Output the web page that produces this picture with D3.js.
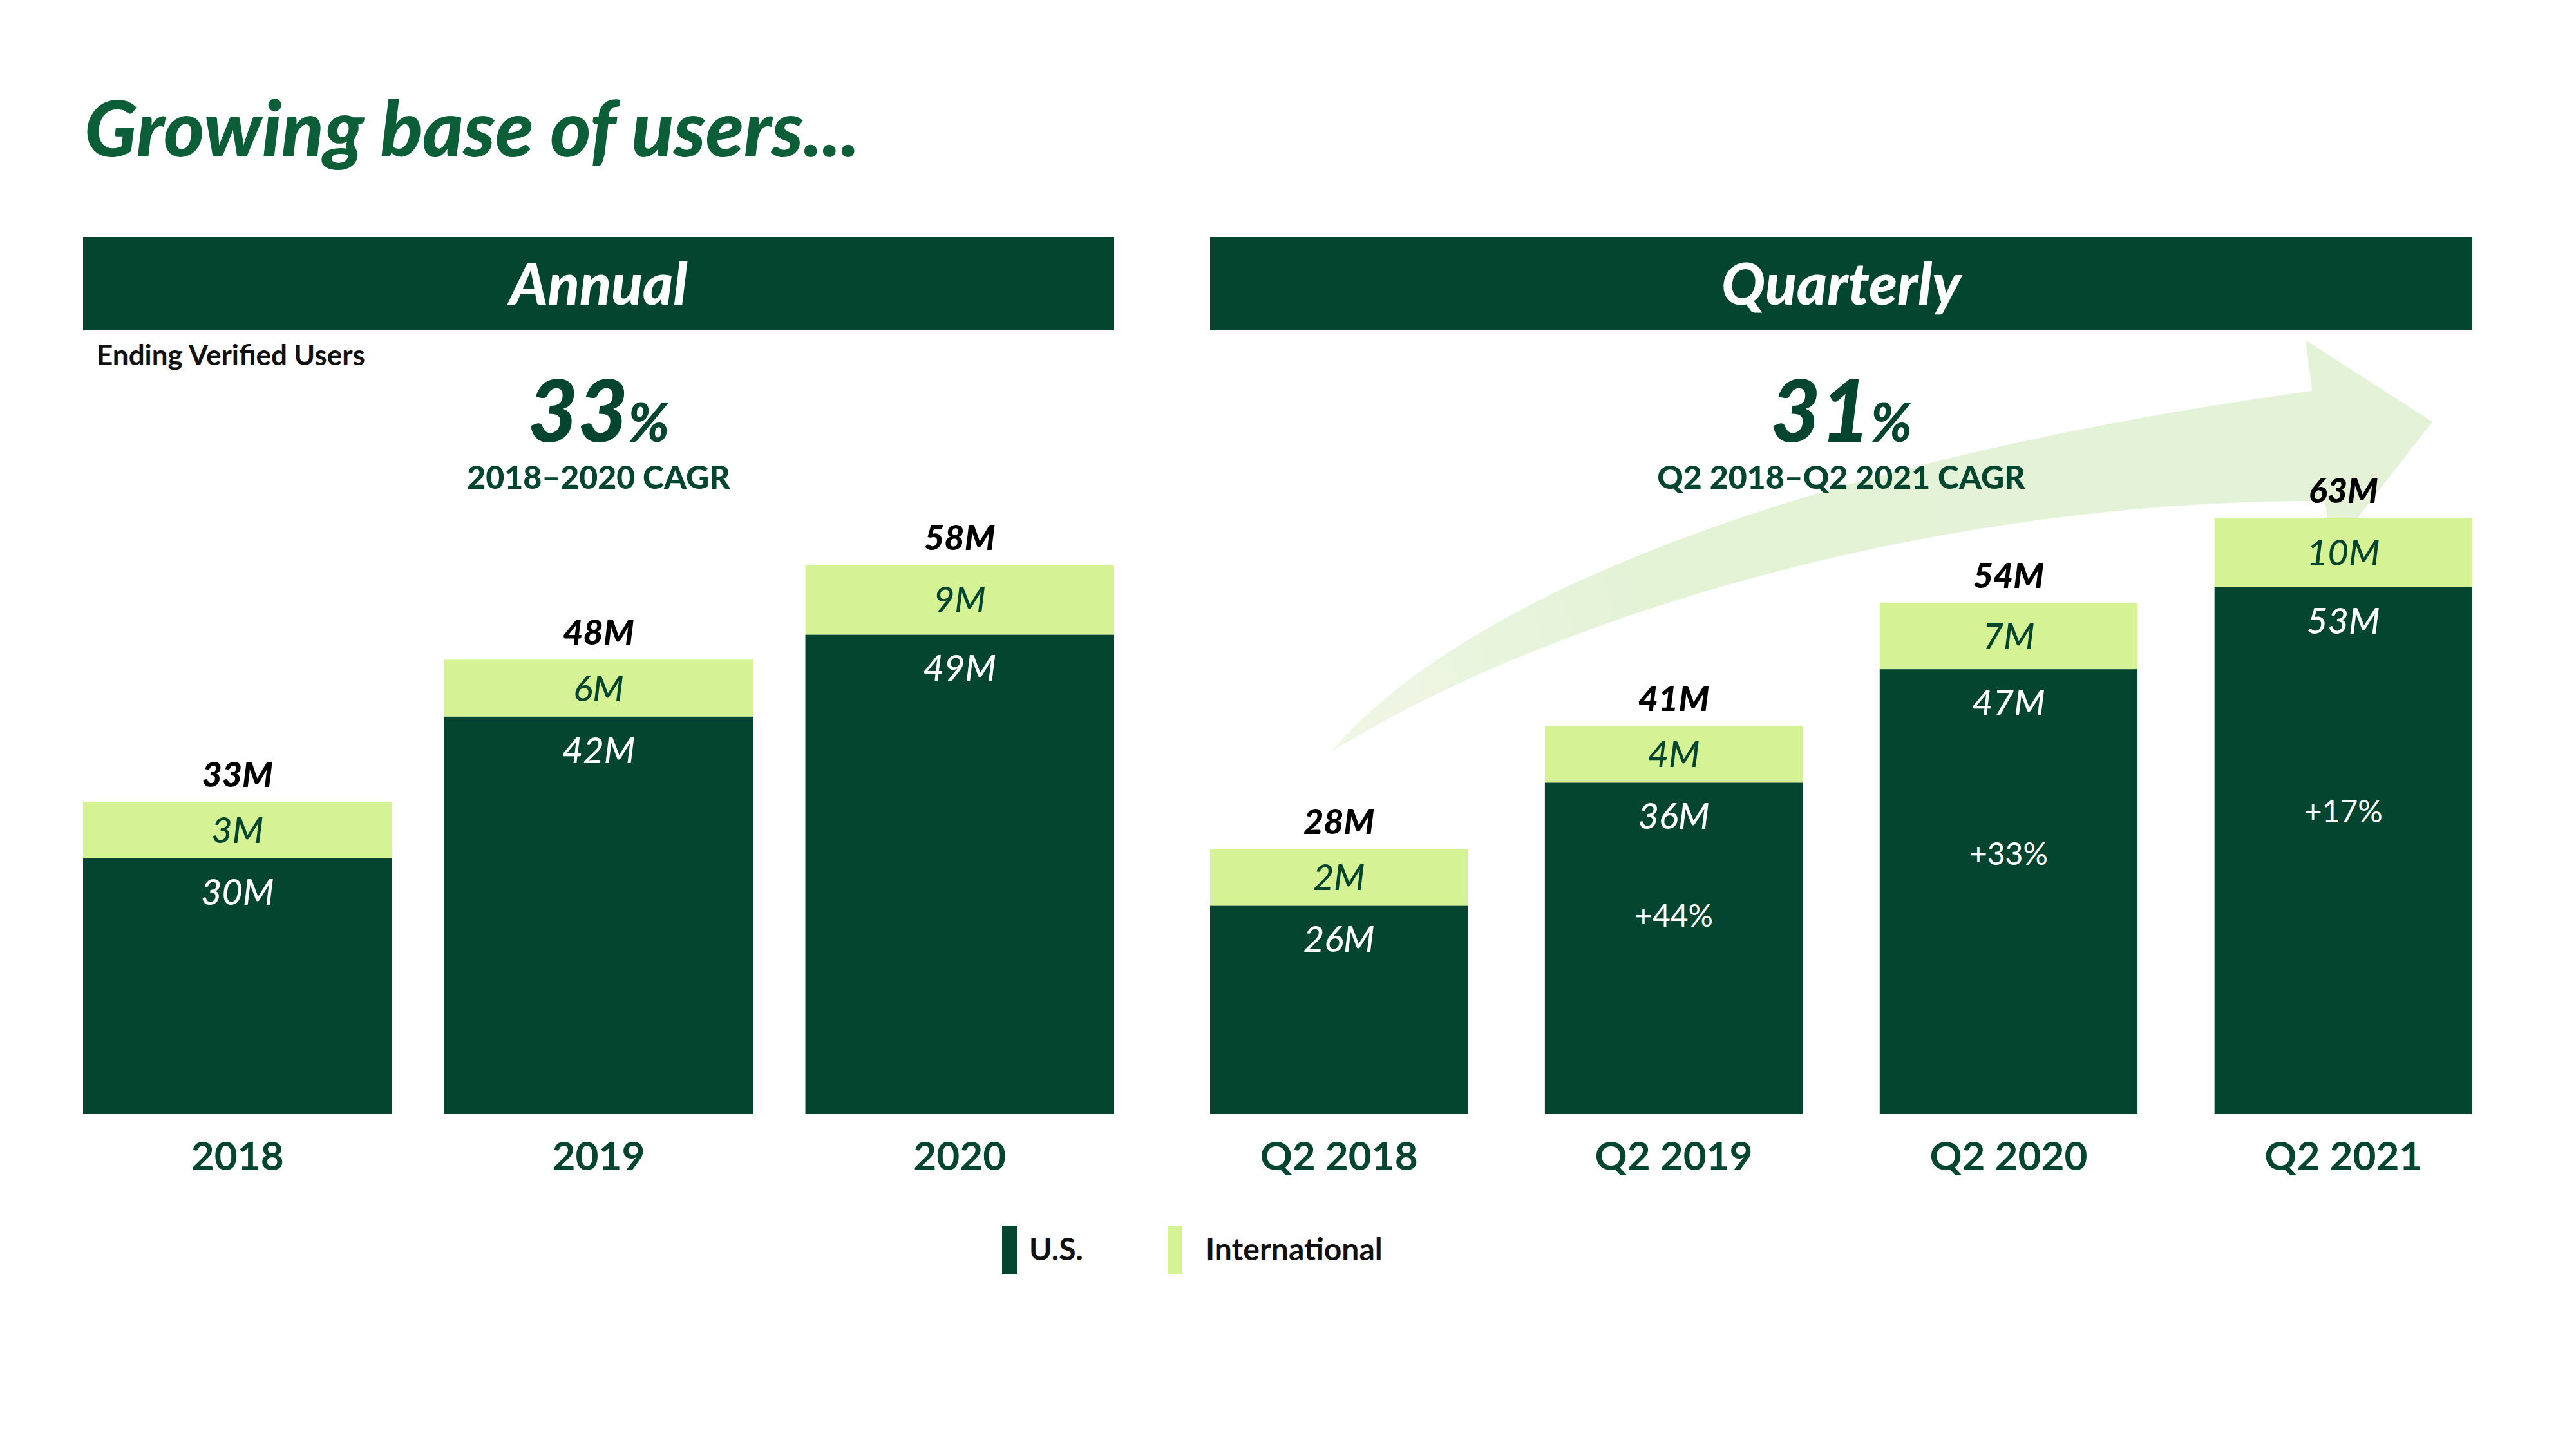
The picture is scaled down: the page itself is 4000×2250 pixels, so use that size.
<!DOCTYPE html>
<html>
<head>
<meta charset="utf-8">
<script src="https://cdn.jsdelivr.net/npm/d3@7"></script>
<style>
    body { margin: 0; background: #ffffff; }
    svg { display: block; font-family: Lato, "Open Sans", sans-serif; }
</style>
</head>
<body>
<svg id="chart"></svg>
<script>
// annual data (millions of ending verified users)
const annualCats = ['2018', '2019', '2020'];
const annualUS = [30, 42, 49];
const annualIntl = [3, 6, 9];
const annualTotal = [33, 48, 58];

// quarterly data
const quarterCats = ['Q2 2018', 'Q2 2019', 'Q2 2020', 'Q2 2021'];
const quarterUS = [26, 36, 47, 53];
const quarterIntl = [2, 4, 7, 10];
const quarterTotal = [28, 41, 54, 63];
const quarterGrowth = ['', '+44%', '+33%', '+17%'];

const legendKeys = ['U.S.', 'International'];

const DARK = '#03452f';
const LIGHT = '#d5f394';
const TITLE_GREEN = '#0b5e38';

const svg = d3.select('#chart')
    .attr('width', 4000)
    .attr('height', 2250);

// shared value scale, baseline of bars at 1730
const y = d3.scaleLinear().domain([0, 100]).range([1730, 260]);
// the intl band is kept inside these limits so its label always fits (as in the slide)
const minBand = 88, maxBand = 108;

// title
svg.append('text')
    .attr('x', 131)
    .attr('y', 243)
    .attr('font-size', 121)
    .attr('font-weight', 900)
    .attr('font-style', 'italic')
    .attr('fill', TITLE_GREEN)
    .text('Growing base of users...');

// sub label
svg.append('text')
    .attr('x', 150)
    .attr('y', 567)
    .attr('font-size', 44)
    .attr('font-weight', 700)
    .attr('fill', '#111')
    .text('Ending Verified Users');

// growth arrow behind the quarterly bars
const defs = svg.append('defs');
const grad = defs.append('linearGradient')
    .attr('id', 'arrowGrad')
    .attr('gradientUnits', 'userSpaceOnUse')
    .attr('x1', 2066).attr('y1', 1168)
    .attr('x2', 3777).attr('y2', 655);
grad.append('stop').attr('offset', 0).attr('stop-color', '#eff7e6');
grad.append('stop').attr('offset', 0.3).attr('stop-color', '#e4f2d6');
grad.append('stop').attr('offset', 1).attr('stop-color', '#e4f3d8');

const arrow = d3.path();
arrow.moveTo(2066, 1168);
arrow.bezierCurveTo(2340, 850, 3050, 680, 3590, 607);
arrow.lineTo(3580, 528);
arrow.lineTo(3777, 655);
arrow.lineTo(3621, 855);
arrow.lineTo(3610, 778);
arrow.bezierCurveTo(3000, 775, 2400, 960, 2066, 1168);
arrow.closePath();
svg.append('path')
    .attr('d', arrow.toString())
    .attr('fill', 'url(#arrowGrad)');

function drawPanel(opts) {
    const x = d3.scaleBand()
        .domain(opts.cats)
        .range(opts.range)
        .paddingInner(opts.pad)
        .paddingOuter(0);
    const cx = (opts.range[0] + opts.range[1]) / 2;
    const g = svg.append('g');

    // header box
    g.append('rect')
        .attr('x', opts.range[0])
        .attr('y', 368)
        .attr('width', opts.range[1] - opts.range[0])
        .attr('height', 145)
        .attr('fill', DARK);
    g.append('text')
        .attr('x', cx)
        .attr('y', 473)
        .attr('text-anchor', 'middle')
        .attr('font-size', 90)
        .attr('font-weight', 900)
        .attr('font-style', 'italic')
        .attr('fill', '#ffffff')
        .text(opts.header);

    // CAGR callout
    const big = g.append('text')
        .attr('x', cx)
        .attr('y', 686)
        .attr('text-anchor', 'middle')
        .attr('font-weight', 900)
        .attr('font-style', 'italic')
        .attr('fill', DARK);
    big.append('tspan').attr('font-size', 134).text(opts.cagr);
    big.append('tspan').attr('font-size', 84).text('%');
    g.append('text')
        .attr('x', cx)
        .attr('y', 759)
        .attr('text-anchor', 'middle')
        .attr('font-size', 50)
        .attr('font-weight', 900)
        .attr('fill', DARK)
        .text(opts.cagrLabel);

    const rows = opts.cats.map((c, i) => {
        const top = y(opts.total[i]);
        const band = Math.min(Math.max(y(0) - y(opts.intl[i]), minBand), maxBand);
        return {cat: c, us: opts.us[i], intl: opts.intl[i], total: opts.total[i],
            top: top, split: top + band, growth: opts.growth ? opts.growth[i] : ''};
    });

    // US segment
    g.selectAll('rect.us').data(rows).join('rect')
        .attr('class', 'us')
        .attr('x', d => x(d.cat))
        .attr('y', d => d.split)
        .attr('width', x.bandwidth())
        .attr('height', d => y(0) - d.split)
        .attr('fill', DARK);

    // international segment
    g.selectAll('rect.intl').data(rows).join('rect')
        .attr('class', 'intl')
        .attr('x', d => x(d.cat))
        .attr('y', d => d.top)
        .attr('width', x.bandwidth())
        .attr('height', d => d.split - d.top)
        .attr('fill', LIGHT);

    const mid = d => x(d.cat) + x.bandwidth() / 2;

    // totals above bars
    g.selectAll('text.total').data(rows).join('text')
        .attr('class', 'total')
        .attr('x', mid)
        .attr('y', d => d.top - 23)
        .attr('text-anchor', 'middle')
        .attr('font-size', 54)
        .attr('font-weight', 900)
        .attr('font-style', 'italic')
        .attr('fill', '#000')
        .text(d => d.total + 'M');

    // intl labels
    g.selectAll('text.intlLbl').data(rows).join('text')
        .attr('class', 'intlLbl')
        .attr('x', mid)
        .attr('y', d => (d.top + d.split) / 2 + 20)
        .attr('text-anchor', 'middle')
        .attr('font-size', 56)
        .attr('font-weight', 500)
        .attr('font-style', 'italic')
        .attr('fill', DARK)
        .text(d => d.intl + 'M');

    // US labels
    g.selectAll('text.usLbl').data(rows).join('text')
        .attr('class', 'usLbl')
        .attr('x', mid)
        .attr('y', d => d.split + 72)
        .attr('text-anchor', 'middle')
        .attr('font-size', 56)
        .attr('font-weight', 500)
        .attr('font-style', 'italic')
        .attr('fill', '#ffffff')
        .text(d => d.us + 'M');

    // growth labels half way up the bar
    g.selectAll('text.growth').data(rows.filter(d => d.growth)).join('text')
        .attr('class', 'growth')
        .attr('x', mid)
        .attr('y', d => y(d.total / 2) + 10)
        .attr('text-anchor', 'middle')
        .attr('font-size', 48)
        .attr('font-weight', 400)
        .attr('fill', '#ffffff')
        .text(d => d.growth);

    // category axis
    const axis = g.append('g')
        .attr('transform', 'translate(0,1817)')
        .call(d3.axisBottom(x).tickSize(0).tickPadding(0));
    axis.select('.domain').remove();
    axis.selectAll('text')
        .attr('dy', 0)
        .attr('font-size', 62)
        .attr('font-family', 'Lato, sans-serif')
        .attr('font-weight', 700)
        .attr('fill', DARK);
}

drawPanel({
    cats: annualCats, us: annualUS, intl: annualIntl, total: annualTotal,
    range: [129, 1730], pad: 0.145,
    header: 'Annual', cagr: '33', cagrLabel: '2018\u20132020 CAGR'
});

drawPanel({
    cats: quarterCats, us: quarterUS, intl: quarterIntl, total: quarterTotal,
    growth: quarterGrowth,
    range: [1879, 3839], pad: 0.23,
    header: 'Quarterly', cagr: '31', cagrLabel: 'Q2 2018\u2013Q2 2021 CAGR'
});

// legend
const legend = svg.append('g');
const legendX = d3.scaleOrdinal().domain(legendKeys).range([1556, 1813]);
const legendColor = d3.scaleOrdinal().domain(legendKeys).range([DARK, LIGHT]);
legend.selectAll('rect').data(legendKeys).join('rect')
    .attr('x', d => legendX(d))
    .attr('y', 1903)
    .attr('width', 23)
    .attr('height', 76)
    .attr('fill', d => legendColor(d));
legend.selectAll('text').data(legendKeys).join('text')
    .attr('x', d => legendX(d) + (d === 'U.S.' ? 42 : 59))
    .attr('y', 1957)
    .attr('font-size', 48)
    .attr('font-weight', 700)
    .attr('fill', '#111')
    .text(d => d);
</script>
</body>
</html>
